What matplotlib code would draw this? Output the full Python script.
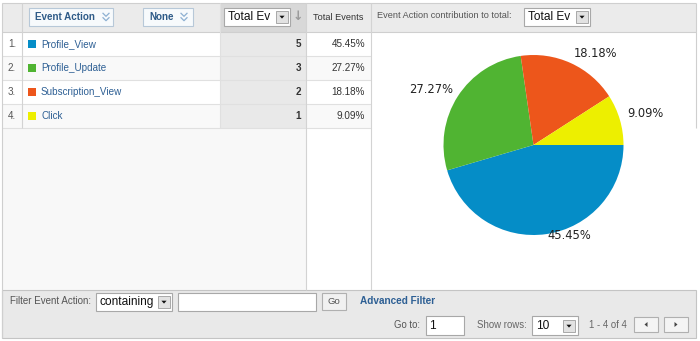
import matplotlib
matplotlib.use("Agg")
import matplotlib.pyplot as plt
from matplotlib.patches import Rectangle, Polygon

# Report data
actions = ["Profile_View", "Profile_Update", "Subscription_View", "Click"]
total_events = [5, 3, 2, 1]
share_labels = ["45.45%", "27.27%", "18.18%", "9.09%"]
colors = ["#058dc7", "#50b432", "#ed561b", "#edef00"]

UI = "Liberation Sans"
PIE_FONT = "DejaVu Sans"
LINK = "#2d5f94"
GRID = "#d3d3d3"

W, H = 700, 341
fig = plt.figure(figsize=(W / 100, H / 100), dpi=100)
fig.patch.set_facecolor("white")
ax = fig.add_axes([0, 0, 1, 1])
ax.set_xlim(0, W)
ax.set_ylim(H, 0)
ax.axis("off")


def box(x, y, w, h, fc="white", ec=None, lw=0.8, z=1):
    ax.add_patch(Rectangle((x, y), w, h, facecolor=fc,
                           edgecolor=ec if ec else "none", linewidth=lw, zorder=z))


def label(x, y, s, size=7.1, color="#333333", ha="left", weight="normal",
          family=UI, z=5):
    ax.text(x, y, s, fontsize=size, color=color, ha=ha, va="center",
            fontweight=weight, family=family, zorder=z)


def hline(x0, x1, y, color=GRID, lw=0.8, z=3):
    ax.plot([x0, x1], [y, y], color=color, lw=lw, zorder=z, solid_capstyle="butt")


def vline(x, y0, y1, color=GRID, lw=0.8, z=3):
    ax.plot([x, x], [y0, y1], color=color, lw=lw, zorder=z, solid_capstyle="butt")


def dropdown(x, y, w, h, z=6):
    box(x, y, w, h, fc="#e2e2e2", ec="#a8a8a8", lw=0.7, z=z)
    cx, cy = x + w / 2, y + h / 2
    ax.add_patch(Polygon([[cx - 2.6, cy - 1.3], [cx + 2.6, cy - 1.3], [cx, cy + 1.6]],
                         closed=True, facecolor="#111111", edgecolor="none", zorder=z + 1))


def chevrons(cx, cy):
    for dy in (-2.2, 2.2):
        ax.plot([cx - 3, cx, cx + 3], [cy + dy - 1.5, cy + dy + 1.5, cy + dy - 1.5],
                color="#8eb0d2", lw=0.9, zorder=7)


# column layout
x_left, x_num, x_sort0, x_sort1, x_pct1, x_right = 2, 22, 220, 306, 371, 696
y_top, y_head, row_h, y_filter, y_bottom = 3, 32, 24, 290, 338

# header band
box(x_left, y_top, x_right - x_left, y_head - y_top, fc="#ebebeb", z=1)
box(x_sort0, y_top, x_sort1 - x_sort0, y_head - y_top, fc="#d8d8d8", z=2)

# body backgrounds
box(x_left, y_head, x_sort1 - x_left, y_filter - y_head, fc="#f8f8f8", z=1)
box(x_sort1, y_head, x_pct1 - x_sort1, y_filter - y_head, fc="white", z=1)
box(x_pct1, y_head, x_right - x_pct1, y_filter - y_head, fc="white", z=1)

for i, (name, val, pct, col) in enumerate(zip(actions, total_events, share_labels, colors)):
    y0 = y_head + i * row_h
    yc = y0 + row_h / 2
    rowbg = "white" if i % 2 == 0 else "#f9f9f9"
    box(x_left, y0, x_sort0 - x_left, row_h, fc=rowbg, z=2)
    box(x_sort0, y0, x_sort1 - x_sort0, row_h, fc="#e9e9e9", z=2)
    box(x_sort1, y0, x_pct1 - x_sort1, row_h, fc=rowbg, z=2)
    hline(x_left, x_pct1, y0 + row_h, color="#e0e0e0")
    label(8, yc, f"{i + 1}.", color="#555555")
    box(28, yc - 4, 8, 8, fc=col, z=4)
    label(41, yc, name, color=LINK)
    label(301, yc, str(val), ha="right", weight="bold", color="#333333")
    label(365, yc, pct, ha="right", color="#333333")

# grid lines
hline(x_left, x_right, y_top, color="#cfcfcf")
hline(x_left, x_right, y_head, color="#cfcfcf")
vline(x_num, y_top, y_head + 4 * row_h)
vline(x_sort0, y_top, y_head + 4 * row_h, color="#e0e0e0")
vline(x_sort1, y_top, y_filter)
vline(x_pct1, y_top, y_filter)
vline(x_left, y_top, y_bottom, color="#cfcfcf")
vline(x_right, y_top, y_head + 4 * row_h, color="#cfcfcf")

# header controls
box(29, 8, 84, 18, fc="#f7fafc", ec="#b7c8d8", z=5)
label(35, 17, "Event Action", weight="bold", color="#2e5b88", size=7.1)
chevrons(106, 17)
box(143, 8, 50, 18, fc="#f7fafc", ec="#b7c8d8", z=5)
label(149, 17, "None", weight="bold", color="#2e5b88", size=7.1)
chevrons(184, 17)

box(224, 8, 66, 18, fc="white", ec="#a8a8a8", z=5)
label(228, 17, "Total Ev", size=8.6, color="#111111")
dropdown(276, 11, 12, 12)
label(298, 17, "\u2193", ha="center", size=9, color="#9a9a9a",
      weight="bold", family="DejaVu Sans")
label(338, 17, "Total Events", ha="center", size=6.6, color="#333333")

label(377, 16, "Event Action contribution to total:", size=6.6, color="#555555")
box(524, 8, 66, 18, fc="white", ec="#a8a8a8", z=5)
label(528, 17, "Total Ev", size=8.6, color="#111111")
dropdown(576, 11, 12, 12)

# filter / paging bar
box(x_left, y_filter, x_right - x_left, y_bottom - y_filter, fc="#e9e9e9",
    ec="#c4c4c4", lw=0.8, z=2)
label(10, 301, "Filter Event Action:", size=7.0, color="#555555")
box(96, 293, 76, 18, fc="white", ec="#a8a8a8", z=5)
label(99, 302, "containing", size=8.6, color="#111111")
dropdown(158, 296, 12, 12)
box(178, 293, 138, 18, fc="white", ec="#a8a8a8", z=5)
box(322, 293, 24, 17, fc="#f1f1f1", ec="#b0b0b0", z=5)
label(334, 301.5, "Go", ha="center", size=6.8, color="#555555")
label(360, 301, "Advanced Filter", weight="bold", size=7.2, color="#2d5f94")

label(420, 325, "Go to:", ha="right", size=6.9, color="#555555")
box(426, 316, 38, 19, fc="white", ec="#a8a8a8", z=5)
label(429, 326, "1", size=8.6, color="#111111")
label(477, 325, "Show rows:", size=6.9, color="#666666")
box(532, 316, 46, 19, fc="white", ec="#a8a8a8", z=5)
label(536, 326, "10", size=8.6, color="#111111")
dropdown(563, 320, 12, 12)
label(589, 325, "1 - 4 of 4", size=6.9, color="#666666")
for bx, pts in ((634, [[-1.5, 0], [1.5, -2.5], [1.5, 2.5]]),
                (664, [[1.5, 0], [-1.5, -2.5], [-1.5, 2.5]])):
    box(bx, 317, 24, 15, fc="#f4f4f4", ec="#b0b0b0", z=5)
    cx, cy = bx + 12, 324.5
    ax.add_patch(Polygon([[cx + px, cy + py] for px, py in pts], closed=True,
                         facecolor="#444444", edgecolor="none", zorder=6))

# pie chart: centre (533.5, 145), radius 90 px
cx, cy, r = 533.5, 145, 90
pax = fig.add_axes([(cx - r) / W, (H - cy - r) / H, 2 * r / W, 2 * r / H])
wedges, _ = pax.pie(total_events, colors=colors, startangle=0, counterclock=False,
                    radius=1.0, wedgeprops=dict(linewidth=0))
pax.set_xlim(-1, 1)
pax.set_ylim(-1, 1)
pax.set_aspect("equal")
pax.axis("off")

# percentage labels placed around the pie
label_xy = [(0.40, -1.01), (-1.14, 0.62), (0.69, 1.02), (1.24, 0.35)]
for (lx, ly), txt in zip(label_xy, share_labels):
    pax.text(lx, ly, txt, ha="center", va="center", fontsize=8.3,
             color="#222222", family=PIE_FONT, clip_on=False)

fig.savefig("out.png", dpi=100, facecolor="white")
